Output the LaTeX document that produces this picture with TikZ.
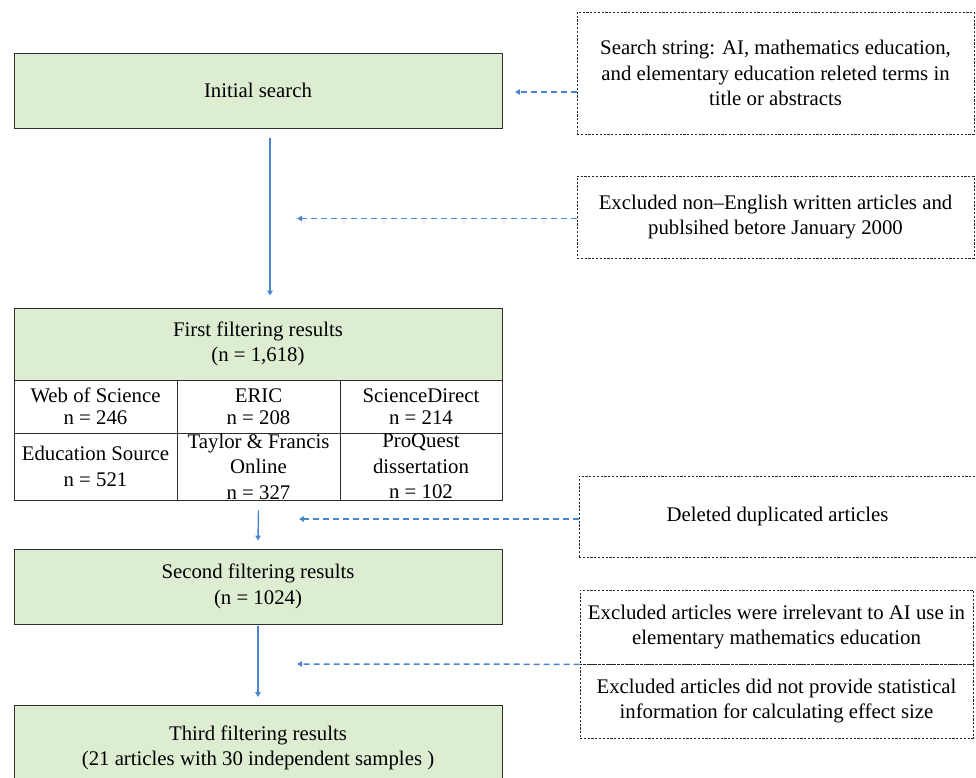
\documentclass[tikz,border=0pt]{standalone}
\usepackage{fontspec}
\setmainfont{Liberation Serif}
\usetikzlibrary{arrows.meta}
\definecolor{boxgreen}{HTML}{DCEDD2}
\definecolor{arrblue}{HTML}{4A86D0}
\definecolor{boxline}{HTML}{2E2E2E}
\tikzset{
  base/.style={inner sep=0pt, align=center, font=\fontsize{20.8}{25.5}\selectfont},
  greenbox/.style={base, draw=boxline, line width=0.9pt, fill=boxgreen},
  cellbox/.style={base, draw=boxline, line width=0.9pt, fill=white},
  notebox/.style={base, draw=black!85, line width=0.6pt, dash pattern=on 2.2pt off 1.6pt},
  flowarr/.style={draw=arrblue, line width=1.4pt, -{Triangle[length=5pt,width=5.5pt]}},
  notearr/.style={draw=arrblue, line width=1.5pt, dash pattern=on 6pt off 4pt, -{Triangle[length=5pt,width=5.5pt]}}
}
\begin{document}
\begin{tikzpicture}[x=1pt,y=-1pt]
\useasboundingbox (0,0) rectangle (976,777);
\clip (0,0) rectangle (976,777);
% left column
\node[greenbox, minimum width=488pt, minimum height=75pt] (init) at (258,90.5) {Initial search};
\node[greenbox, minimum width=488pt, minimum height=72pt] (hdr) at (258,344) {First filtering results\\(n = 1,618)};
\node[cellbox, minimum width=163pt, minimum height=53pt] (c11) at (95.5,406.5) {Web of Science\\[-4pt]n = 246};
\node[cellbox, minimum width=163pt, minimum height=53pt] (c12) at (258.5,406.5) {ERIC\\[-4pt]n = 208};
\node[cellbox, minimum width=162pt, minimum height=53pt] (c13) at (421,406.5) {ScienceDirect\\[-4pt]n = 214};
\node[cellbox, minimum width=163pt, minimum height=67pt] (c21) at (95.5,466.5) {Education Source\\n = 521};
\node[cellbox, minimum width=163pt, minimum height=67pt] (c22) at (258.5,466.5) {Taylor \& Francis\\Online\\n = 327};
\node[cellbox, minimum width=162pt, minimum height=67pt] (c23) at (421,466.5) {ProQuest\\dissertation\\n = 102};
\node[greenbox, minimum width=488pt, minimum height=75pt] (second) at (258,586.5) {Second filtering results\\(n = 1024)};
\node[greenbox, minimum width=488pt, minimum height=80pt, text depth=0pt] (third) at (258,745.5) {Third filtering results\\(21 articles with 30 independent samples )};
% right column
\node[notebox, minimum width=397pt, minimum height=122pt] (srch) at (775.5,73) {Search string: AI, mathematics education,\\and elementary education releted terms in\\title or abstracts};
\node[notebox, minimum width=397pt, minimum height=82pt] (excl1) at (775.5,217) {Excluded non--English written articles and\\publsihed betore January 2000};
\node[notebox, minimum width=397pt, minimum height=81pt] (dup) at (777.5,516.5) {Deleted duplicated articles};
\node[notebox, minimum width=393pt, minimum height=74pt] (ex3a) at (776.5,627) {Excluded articles were irrelevant to AI use in\\elementary mathematics education};
\node[notebox, minimum width=393pt, minimum height=74pt] (ex3b) at (776.5,701) {Excluded articles did not provide statistical\\information for calculating effect size};
% free ends of the note arrows
\coordinate (t1) at (515,92);
\coordinate (t2) at (297,218.5);
\coordinate (t3) at (299,519);
\coordinate (t4) at (297,664);
% flow arrows
\draw[flowarr] ([xshift=12pt,yshift=-10pt]init.south) -- ([xshift=12pt,yshift=12pt]hdr.north);
\draw[flowarr] ([yshift=-10pt]c22.south) -- ([yshift=8pt]second.north);
\draw[flowarr] ([yshift=-2pt]second.south) -- ([yshift=8pt]third.north);
% note arrows
\draw[notearr] (srch.west |- t1) -- (t1);
\draw[notearr] (excl1.west |- t2) -- (t2);
\draw[notearr] (dup.west |- t3) -- (t3);
\draw[notearr] (ex3a.south west) -- (t4);
\end{tikzpicture}
\end{document}
